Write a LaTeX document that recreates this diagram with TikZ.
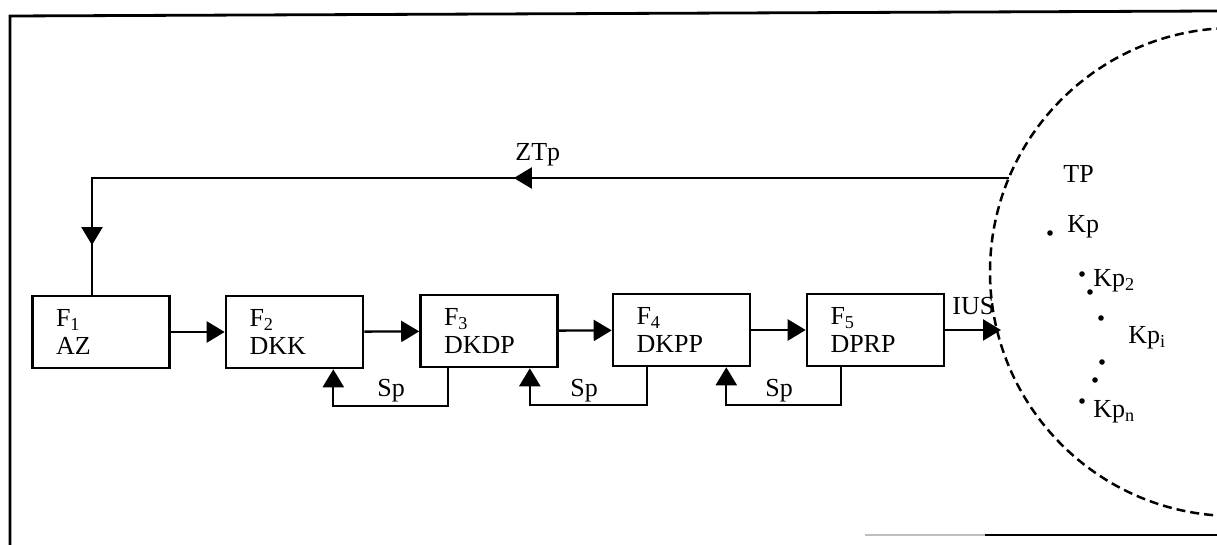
\documentclass[tikz,border=0pt]{standalone}
\usepackage{fontspec}
\setmainfont{Liberation Serif}
\usepackage{tikz}
\usetikzlibrary{arrows.meta,positioning,calc,decorations.markings}

\begin{document}
\begin{tikzpicture}[x=0.5pt, y=-0.5pt, >={Triangle[length=9pt,width=10.5pt]},
  every node/.style={font=\fontsize{13}{14}\selectfont, inner sep=0pt},
  box/.style={draw, line width=1.3pt, minimum width=68.5pt, minimum height=36pt,
    text width=45pt, inner xsep=11.75pt, align=left},
  conn/.style={line width=1.15pt},
  kpdot/.style={circle, fill, inner sep=0pt, minimum size=2.8pt},
  zone/.style={line width=1.25pt, dash pattern=on 4.5pt off 2.5pt}]
  \useasboundingbox (0,0) rectangle (1217,545);

  % Outer frame (open at the right and partly at the bottom)
  \draw[line width=1.4pt] (1217,11) -- (10,16) -- (10,545);
  \draw[black!25, line width=1.2pt] (865,535) -- (985,535);
  \draw[line width=1.4pt] (985,535) -- (1217,535);

  % TP zone, cut by the page edge
  \begin{scope}
    \clip (0,0) rectangle (1217,545);
    \draw[zone] (1234,272) circle [radius=122pt];
  \end{scope}

  % --- Function blocks ---
  \node[box] (f1) at (101,332)   {F\textsubscript{1}\\AZ};
  \node[box] (f2) at (294.5,332) {F\textsubscript{2}\\DKK};
  \node[box] (f3) at (489,331)   {F\textsubscript{3}\\DKDP};
  \node[box] (f4) at (681.5,330) {F\textsubscript{4}\\DKPP};
  \node[box] (f5) at (875.5,330) {F\textsubscript{5}\\DPRP};

  % Forward chain
  \draw[conn,->] (f1) -- (f2);
  \draw[conn,->] (f2) -- (f3);
  \draw[conn,->] (f3) -- (f4);
  \draw[conn,->] (f4) -- (f5);
  \coordinate (ius) at (1001,330);
  \draw[conn,->] (f5) -- (ius);
  \node[anchor=base west] (iuslbl) at (952,315) {IUS};

  % --- Sp loops (next block back to previous one) ---
  \draw[conn,->] ([xshift=14.5pt]f3.south west) -- ++(0,38) -| ([xshift=-15.5pt]f2.south east);
  \draw[conn,->] ([xshift=17.5pt]f4.south west) -- ++(0,38) -| ([xshift=-14.5pt]f3.south east);
  \draw[conn,->] ([xshift=17.5pt]f5.south west) -- ++(0,38) -| ([xshift=-12.5pt]f4.south east);
  \node[anchor=base west] (sp1) at (377,397) {Sp};
  \node[anchor=base west] (sp2) at (570,397) {Sp};
  \node[anchor=base west] (sp3) at (765,397) {Sp};

  % --- ZTp feedback from the TP zone to F1 ---
  \coordinate (ztp) at (1009,178);
  \coordinate (bend) at (92,178);
  \draw[conn, postaction={decorate}, decoration={markings,
      mark=at position 0.479 with {\arrow{>}},
      mark=at position 0.952 with {\arrow{>}}}]
    (ztp) -- (bend) -- (bend |- f1.north);
  \node[anchor=base west] (ztplbl) at (515,161) {ZTp};

  % --- Inside the zone ---
  \node[anchor=base west] (tp) at (1063,183) {TP};
  \node[anchor=base west] (kp) at (1067,233) {Kp};
  \node[anchor=base west] (kp2) at (1093,287) {Kp\textsubscript{2}};
  \node[anchor=base west] (kpi) at (1128,344) {Kp\textsubscript{i}};
  \node[anchor=base west] (kpn) at (1093,418) {Kp\textsubscript{n}};
  \foreach \px/\py in {1050/233, 1082/274, 1090/292, 1101/318, 1102/362, 1095/380, 1082/401}
    \node[kpdot] at (\px,\py) {};
\end{tikzpicture}
\end{document}
